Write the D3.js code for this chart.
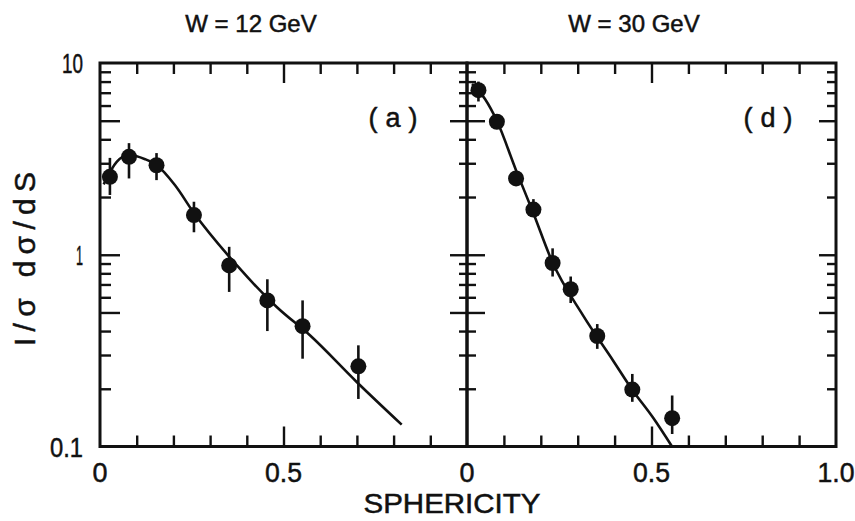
<!DOCTYPE html>
<html>
<head>
<meta charset="utf-8">
<script src="https://cdn.jsdelivr.net/npm/d3@7/dist/d3.min.js"></script>
<style>
  html, body { margin: 0; padding: 0; background: #fff; }
  svg { display: block; }
  text { font-family: "Liberation Sans", "DejaVu Sans", sans-serif; fill: #111; stroke: #111; stroke-width: 0.5px; }
</style>
</head>
<body>
<svg id="chart" width="855" height="521"></svg>
<script>
// Sphericity distributions at two centre-of-mass energies
const panelTitles = ["W = 12 GeV", "W = 30 GeV"];
const panelTags = ["(a)", "(d)"];

// W = 12 GeV data points
const s12 = [0.027, 0.079, 0.154, 0.256, 0.352, 0.456, 0.552, 0.704];
const v12 = [2.55, 3.24, 2.93, 1.61, 0.88, 0.578, 0.424, 0.262];
const lo12 = [2.05, 2.5, 2.45, 1.31, 0.64, 0.40, 0.287, 0.177];
const hi12 = [3.2, 3.82, 3.39, 1.89, 1.10, 0.745, 0.578, 0.337];
// W = 12 GeV model curve
const fitS12 = [0.01, 0.0455, 0.079, 0.123, 0.155, 0.204, 0.256, 0.3725, 0.4815, 0.572, 0.6995, 0.822];
const fitV12 = [2.33, 3.05, 3.31, 3.15, 2.93, 2.31, 1.65, 0.882, 0.534, 0.380, 0.217, 0.130];

// W = 30 GeV data points
const s30 = [0.031, 0.081, 0.133, 0.180, 0.232, 0.281, 0.353, 0.448, 0.556];
const v30 = [7.22, 4.94, 2.50, 1.72, 0.906, 0.661, 0.377, 0.198, 0.1405];
const lo30 = [6.3, 4.6, 2.3, 1.6, 0.77, 0.56, 0.323, 0.171, 0.1162];
const hi30 = [8.0, 5.3, 2.7, 1.95, 1.08, 0.77, 0.435, 0.239, 0.1845];
// W = 30 GeV model curve
const fitS30 = [0.0136, 0.0488, 0.0813, 0.1328, 0.1789, 0.2304, 0.3144, 0.3957, 0.4472, 0.504, 0.5556];
const fitV30 = [7.77, 6.49, 4.98, 2.76, 1.667, 0.925, 0.483, 0.281, 0.1985, 0.1416, 0.1];

// Axis ticks and labels
const xMinorTicks = [0.1, 0.2, 0.3, 0.4, 0.6, 0.7, 0.8, 0.9];
const xMajorTicks = [0.5];
const yMinorTicks = [0.2, 0.3, 0.4, 0.6, 0.7, 0.8, 0.9, 2, 3, 4, 6, 7, 8, 9];
const yMajorTicks = [0.5, 1, 5];
const yTickLabels = [{v: 10, t: "10"}, {v: 1, t: "1"}, {v: 0.1, t: "0.1"}];
const xTickLabels12 = [{v: 0, t: "0"}, {v: 0.5, t: "0.5"}];
const xTickLabels30 = [{v: 0, t: "0"}, {v: 0.5, t: "0.5"}, {v: 1.0, t: "1.0"}];
const xTitle = "SPHERICITY";
const yTitle = "I/σ  dσ/dS";

const svg = d3.select("#chart");
const plotTop = 63, plotBottom = 446.5;

const panels = [
  {x0: 100, x1: 467, s: s12, v: v12, lo: lo12, hi: hi12, fs: fitS12, fv: fitV12,
   title: panelTitles[0], titleX: 251, tag: panelTags[0], tagX: 393, xLabels: xTickLabels12,
   leftMinor: 11, leftMajor: 20, rightMinor: 8, rightMajor: 17},
  {x0: 467, x1: 836, s: s30, v: v30, lo: lo30, hi: hi30, fs: fitS30, fv: fitV30,
   title: panelTitles[1], titleX: 634, tag: panelTags[1], tagX: 768, xLabels: xTickLabels30,
   leftMinor: 9, leftMajor: 18, rightMinor: 9, rightMajor: 17}
];

const y = d3.scaleLog().domain([0.1, 10]).range([plotBottom, plotTop]);

function styleAxis(g, w) {
  g.select(".domain").remove();
  g.selectAll(".tick line").attr("stroke", "#111").attr("stroke-width", w);
  g.selectAll(".tick text").remove();
}

panels.forEach(p => {
  const x = d3.scaleLinear().domain([0, 1]).range([p.x0, p.x1]);
  const g = svg.append("g");

  // x ticks, bottom (pointing up) and top (pointing down)
  [[xMinorTicks, 11], [xMajorTicks, 20]].forEach(([vals, len]) => {
    g.append("g").attr("transform", `translate(0,${plotBottom})`)
      .call(d3.axisBottom(x).tickValues(vals).tickSize(-len).tickSizeOuter(0))
      .call(a => styleAxis(a, 2.4));
    g.append("g").attr("transform", `translate(0,${plotTop})`)
      .call(d3.axisTop(x).tickValues(vals).tickSize(-len).tickSizeOuter(0))
      .call(a => styleAxis(a, 2.4));
  });

  // y ticks, left side pointing right, right side pointing left
  [[yMinorTicks, p.leftMinor, p.rightMinor], [yMajorTicks, p.leftMajor, p.rightMajor]].forEach(([vals, l, r]) => {
    g.append("g").attr("transform", `translate(${p.x0},0)`)
      .call(d3.axisLeft(y).tickValues(vals).tickSize(-l).tickSizeOuter(0))
      .call(a => styleAxis(a, 2.4));
    g.append("g").attr("transform", `translate(${p.x1},0)`)
      .call(d3.axisRight(y).tickValues(vals).tickSize(-r).tickSizeOuter(0))
      .call(a => styleAxis(a, 2.4));
  });

  // frame
  g.append("rect")
    .attr("x", p.x0).attr("y", plotTop)
    .attr("width", p.x1 - p.x0).attr("height", plotBottom - plotTop)
    .attr("fill", "none").attr("stroke", "#111").attr("stroke-width", 3);

  // model curve
  const fit = p.fs.map((s, i) => [s, p.fv[i]]);
  g.append("path")
    .datum(fit)
    .attr("fill", "none").attr("stroke", "#111").attr("stroke-width", 2.6)
    .attr("d", d3.line().x(d => x(d[0])).y(d => y(d[1])).curve(d3.curveMonotoneX));

  // data points with error bars
  const pts = p.s.map((s, i) => ({s, v: p.v[i], lo: p.lo[i], hi: p.hi[i]}));
  g.selectAll(".err").data(pts).enter().append("line")
    .attr("x1", d => x(d.s)).attr("x2", d => x(d.s))
    .attr("y1", d => y(d.lo)).attr("y2", d => y(d.hi))
    .attr("stroke", "#111").attr("stroke-width", 2.6);
  g.selectAll(".dot").data(pts).enter().append("circle")
    .attr("cx", d => x(d.s)).attr("cy", d => y(d.v)).attr("r", 8)
    .attr("fill", "#111");

  // x tick labels
  g.selectAll(".xl").data(p.xLabels).enter().append("text")
    .attr("x", d => x(d.v)).attr("y", 482)
    .attr("text-anchor", "middle").attr("font-size", 28)
    .attr("textLength", d => d.t.length === 1 ? 15 : 37).attr("lengthAdjust", "spacingAndGlyphs")
    .text(d => d.t);

  // panel title and tag
  g.append("text").attr("x", p.titleX).attr("y", 32)
    .attr("text-anchor", "middle").attr("font-size", 24).text(p.title);
  g.append("text").attr("x", p.tagX).attr("y", 127)
    .attr("text-anchor", "middle").attr("font-size", 27)
    .attr("textLength", 49).attr("lengthAdjust", "spacing").text(p.tag);
});

// y tick labels
svg.selectAll(".yl").data(yTickLabels).enter().append("text")
  .attr("x", 83).attr("y", d => y(d.v) + 10)
  .attr("text-anchor", "end").attr("font-size", 28)
  .attr("textLength", d => d.t.length === 1 ? 7 : (d.t.length === 2 ? 21 : 33))
  .attr("lengthAdjust", "spacingAndGlyphs")
  .text(d => d.t);

// axis titles
svg.append("text").attr("x", 452).attr("y", 513)
  .attr("text-anchor", "middle").attr("font-size", 28)
  .attr("textLength", 177).attr("lengthAdjust", "spacingAndGlyphs").text(xTitle);
svg.append("text")
  .attr("transform", "translate(35,259) rotate(-90)")
  .attr("text-anchor", "middle").attr("font-size", 30)
  .attr("textLength", 174).attr("lengthAdjust", "spacing")
  .text(yTitle);
</script>
</body>
</html>
